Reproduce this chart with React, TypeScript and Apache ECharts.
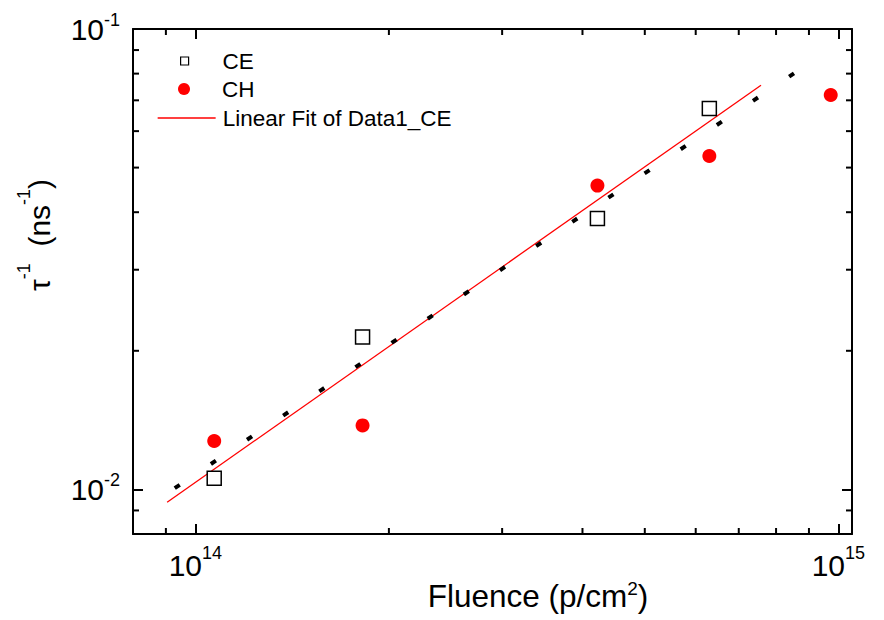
import React, { useEffect, useRef } from 'react';
import * as echarts from 'echarts';

// Axis extents (log scales)
const X_MIN = 8e13;
const X_MAX = 1.05e15;
const Y_MIN = 8e-3;
const Y_MAX = 1e-1;

// CE data (open squares)
const ceFluence = [1.07e14, 1.82e14, 4.22e14, 6.3e14];
const ceRate = [0.01057, 0.02143, 0.03878, 0.0672];

// CH data (red circles)
const chFluence = [1.07e14, 1.82e14, 4.22e14, 6.3e14, 9.73e14];
const chRate = [0.01274, 0.01377, 0.0457, 0.053, 0.0719];

// Linear fit of Data1_CE (endpoints)
const fitFluence = [9.04e13, 7.58e14];
const fitRate = [0.00938, 0.0755];

// Black dotted reference line (endpoints)
const dotFluence = [9.29e13, 8.53e14];
const dotRate = [0.01006, 0.0801];

// Minor tick values
const minorXTicks = [9e13, 2e14, 3e14, 4e14, 5e14, 6e14, 7e14, 8e14, 9e14];
const minorYTicks = [9e-3, 2e-2, 3e-2, 4e-2, 5e-2, 6e-2, 7e-2, 8e-2, 9e-2];

const FONT = "'Liberation Sans', Arial, Helvetica, sans-serif";

const pow10 = (v: number): number | null => {
  const e = Math.log10(v);
  return Math.abs(e - Math.round(e)) < 1e-6 ? Math.round(e) : null;
};

const axisLineStyle = { color: '#000', width: 2 };

export default function App() {
  const ref = useRef<HTMLDivElement>(null);

  useEffect(() => {
    const chart = echarts.init(ref.current!, null, { renderer: 'svg' });

    const baseAxis: any = {
      type: 'log',
      logBase: 10,
      axisLine: { show: true, onZero: false, lineStyle: axisLineStyle },
      axisTick: { show: true, inside: true, length: 10, lineStyle: axisLineStyle },
      splitLine: { show: false },
      minorTick: { show: false },
      minorSplitLine: { show: false },
    };

    const legendText = (pad: number) => ({
      fontSize: 22.5,
      color: '#000',
      fontFamily: FONT,
      padding: [0, 0, 0, pad],
    });

    const option: any = {
      animation: false,
      backgroundColor: '#fff',
      textStyle: { fontFamily: FONT },
      grid: { left: 133, right: 32, top: 29, bottom: 86, containLabel: false },
      xAxis: [
        {
          ...baseAxis,
          position: 'bottom',
          min: X_MIN,
          max: X_MAX,
          axisLabel: {
            margin: 10,
            color: '#000',
            formatter: (v: number) => {
              const e = pow10(v);
              return e === null ? '' : `{b|10}{s|${e}}`;
            },
            rich: {
              b: { fontSize: 30, lineHeight: 43, fontFamily: FONT, color: '#000' },
              s: { fontSize: 18, lineHeight: 18, verticalAlign: 'top', fontFamily: FONT, color: '#000' },
            },
          },
        },
        {
          ...baseAxis,
          position: 'top',
          min: X_MIN,
          max: X_MAX,
          axisLabel: { show: false },
        },
      ],
      yAxis: [
        {
          ...baseAxis,
          position: 'left',
          min: Y_MIN,
          max: Y_MAX,
          axisLabel: {
            margin: 13,
            color: '#000',
            formatter: (v: number) => {
              const e = pow10(v);
              return e === null ? '' : `{b|10}{s|${e}}`;
            },
            rich: {
              b: { fontSize: 30, lineHeight: 36, fontFamily: FONT, color: '#000' },
              s: { fontSize: 18, lineHeight: 18, verticalAlign: 'top', fontFamily: FONT, color: '#000' },
            },
          },
        },
        {
          ...baseAxis,
          position: 'right',
          min: Y_MIN,
          max: Y_MAX,
          axisLabel: { show: false },
        },
      ],
      legend: [
        {
          data: ['CE'],
          orient: 'vertical',
          left: 180,
          top: 49.5,
          padding: 0,
          itemWidth: 8,
          itemHeight: 8,
          itemStyle: { color: '#fff', borderColor: '#000', borderWidth: 1.2, opacity: 1 },
          textStyle: legendText(29),
          selectedMode: false,
        },
        {
          data: ['CH'],
          orient: 'vertical',
          left: 178,
          top: 77.5,
          padding: 0,
          itemWidth: 12,
          itemHeight: 12,
          itemStyle: { color: '#ff0000', opacity: 1 },
          textStyle: legendText(27),
          selectedMode: false,
        },
        {
          data: ['Linear Fit of Data1_CE'],
          orient: 'vertical',
          left: 157,
          top: 106.5,
          padding: 0,
          itemWidth: 58,
          itemHeight: 14,
          itemStyle: { opacity: 0 },
          lineStyle: { color: '#ff0000', width: 1.3, opacity: 1 },
          textStyle: legendText(2),
          selectedMode: false,
        },
      ],
      graphic: [
        {
          type: 'text',
          x: 538,
          y: 596,
          style: {
            text: '{b|Fluence (p/cm}{s|2}{b|)}',
            align: 'center',
            verticalAlign: 'middle',
            rich: {
              b: { fontSize: 31.5, lineHeight: 35, fontFamily: FONT, fill: '#000' },
              s: { fontSize: 19, lineHeight: 18, verticalAlign: 'top', fontFamily: FONT, fill: '#000' },
            },
          },
        },
        {
          type: 'text',
          x: 39,
          y: 235,
          rotation: Math.PI / 2,
          style: {
            text: '{b|τ}{s|-1}{b|  (ns}{s|-1}{b|)}',
            align: 'center',
            verticalAlign: 'middle',
            rich: {
              b: { fontSize: 30, lineHeight: 48, fontFamily: FONT, fill: '#000' },
              s: { fontSize: 18, lineHeight: 18, verticalAlign: 'top', fontFamily: FONT, fill: '#000' },
            },
          },
        },
      ],
      series: [
        {
          name: 'Linear Fit of Data1_CE',
          type: 'line',
          data: fitFluence.map((x, i) => [x, fitRate[i]]),
          symbol: 'none',
          showSymbol: false,
          lineStyle: { color: '#ff0000', width: 1.3 },
          itemStyle: { color: '#ff0000' },
          z: 2,
        },
        {
          name: 'dotted',
          type: 'line',
          data: dotFluence.map((x, i) => [x, dotRate[i]]),
          symbol: 'none',
          showSymbol: false,
          lineStyle: { color: '#000', width: 4, type: [6, 37.5], cap: 'butt' },
          z: 2,
        },
        {
          name: 'CE',
          type: 'scatter',
          symbol: 'rect',
          symbolSize: 14,
          data: ceFluence.map((x, i) => [x, ceRate[i]]),
          itemStyle: { color: '#fff', borderColor: '#000', borderWidth: 1.5, opacity: 1 },
          z: 3,
        },
        {
          name: 'CH',
          type: 'scatter',
          symbol: 'circle',
          symbolSize: 14,
          data: chFluence.map((x, i) => [x, chRate[i]]),
          itemStyle: { color: '#ff0000', opacity: 1 },
          z: 3,
        },
        {
          name: 'minorTicks',
          type: 'custom',
          silent: true,
          clip: false,
          z: 4,
          encode: { x: 0, y: 1 },
          data: [
            ...minorXTicks.map((v) => [v, Y_MIN, 0]),
            ...minorYTicks.map((v) => [X_MIN, v, 1]),
          ],
          renderItem: (params: any, api: any) => {
            const cs = params.coordSys;
            const p = api.coord([api.value(0), api.value(1)]);
            const style = { stroke: '#000', lineWidth: 2 };
            if (api.value(2) === 0) {
              const bottom = cs.y + cs.height;
              return {
                type: 'group',
                children: [
                  { type: 'line', shape: { x1: p[0], y1: bottom, x2: p[0], y2: bottom - 6 }, style },
                  { type: 'line', shape: { x1: p[0], y1: cs.y, x2: p[0], y2: cs.y + 6 }, style },
                ],
              };
            }
            const right = cs.x + cs.width;
            return {
              type: 'group',
              children: [
                { type: 'line', shape: { x1: cs.x, y1: p[1], x2: cs.x + 6, y2: p[1] }, style },
                { type: 'line', shape: { x1: right, y1: p[1], x2: right - 6, y2: p[1] }, style },
              ],
            };
          },
        },
      ],
    };

    chart.setOption(option);
    return () => chart.dispose();
  }, []);

  return (
    <div
      ref={ref}
      style={{ position: 'fixed', left: 0, top: 0, width: 884, height: 620, background: '#fff' }}
    />
  );
}
